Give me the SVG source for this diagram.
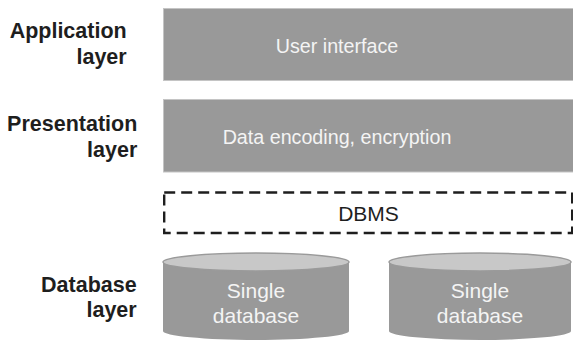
<svg xmlns="http://www.w3.org/2000/svg" width="573" height="343" viewBox="0 0 573 343">
  <style>
    .lbl { font-family: "Liberation Sans", Arial, sans-serif; font-weight: bold; font-size: 21.5px; fill: #1e1e1e; text-anchor: end; }
    .box { fill: #999999; stroke: #c4c4c4; stroke-width: 1; }
    .boxtxt { font-family: "Liberation Sans", Arial, sans-serif; font-size: 19.7px; fill: #f4f4f4; text-anchor: middle; }
    .dbtxt { font-family: "Liberation Sans", Arial, sans-serif; font-size: 21px; fill: #f4f4f4; text-anchor: middle; }
    .dbms { fill: none; stroke: #1e1e1e; stroke-width: 2.4; stroke-dasharray: 11 6; }
    .dbmstxt { font-family: "Liberation Sans", Arial, sans-serif; font-size: 21px; fill: #1e1e1e; text-anchor: middle; }
    .cylbody { fill: #999999; }
    .cyltop { fill: #c8c8c8; stroke: #9a9a9a; stroke-width: 1.5; }
  </style>

  <g id="labels">
    <text class="lbl" x="126.7" y="38">Application</text>
    <text class="lbl" x="126.7" y="63.5">layer</text>
    <text class="lbl" x="137.3" y="131">Presentation</text>
    <text class="lbl" x="137.3" y="157">layer</text>
    <text class="lbl" x="136.7" y="291.5">Database</text>
    <text class="lbl" x="136.7" y="316.7">layer</text>
  </g>

  <g id="user-interface">
    <rect class="box" x="163.5" y="8.5" width="412" height="72"/>
    <text class="boxtxt" x="337" y="52.7">User interface</text>
  </g>

  <g id="data-encoding">
    <rect class="box" x="163.5" y="99.5" width="412" height="72.5"/>
    <text class="boxtxt" x="337" y="144.3">Data encoding, encryption</text>
  </g>

  <g id="dbms">
    <rect class="dbms" x="164.2" y="192.5" width="408" height="40.5"/>
    <text class="dbmstxt" x="368.5" y="220.7">DBMS</text>
  </g>

  <g id="database-1">
    <path class="cylbody" d="M163,262 L163,331 A93,9 0 0 0 349,331 L349,262 Z"/>
    <ellipse class="cyltop" cx="256" cy="262" rx="93" ry="9"/>
    <text class="dbtxt" x="256" y="298">Single</text>
    <text class="dbtxt" x="256" y="323">database</text>
  </g>

  <g id="database-2">
    <path class="cylbody" d="M389,262 L389,331 A91,9 0 0 0 571,331 L571,262 Z"/>
    <ellipse class="cyltop" cx="480" cy="262" rx="91" ry="9"/>
    <text class="dbtxt" x="480" y="298">Single</text>
    <text class="dbtxt" x="480" y="323">database</text>
  </g>

  <g id="connectors"/>
</svg>
